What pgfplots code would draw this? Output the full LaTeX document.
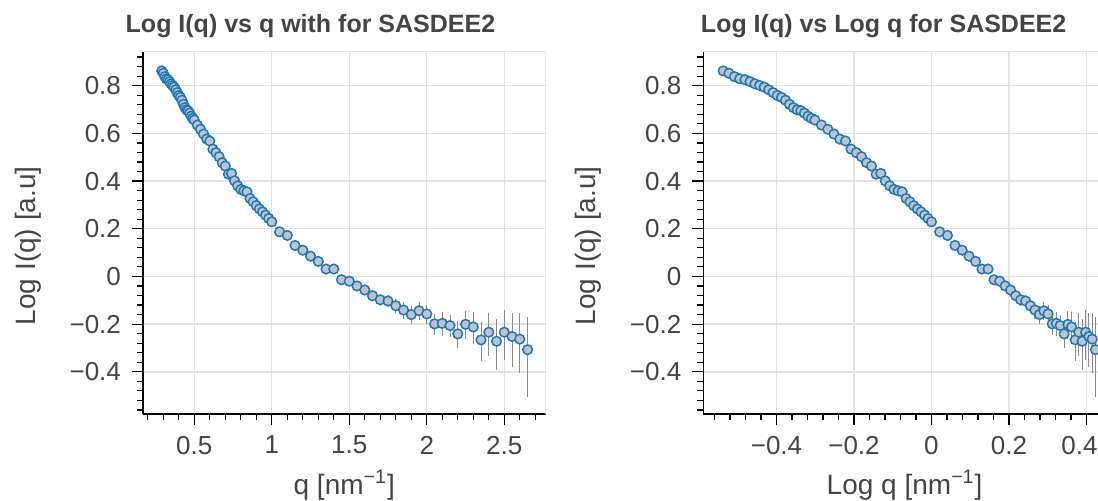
\documentclass[border=0pt]{standalone}
\usepackage{fontspec}
\setmainfont{Liberation Sans}
\usepackage{pgfplots}
\usepackage{pgfplotstable}
\pgfplotsset{compat=1.18}

\definecolor{txt}{HTML}{444444}
\definecolor{gridc}{HTML}{E3E3E3}
\definecolor{edge}{HTML}{1F77B4}
\definecolor{fillc}{HTML}{BCC5CE}
\definecolor{errc}{HTML}{8A8A8A}

% q, log10 q, log I, error up, error down
\pgfplotstableread{
q lq y ep em
0.29 -0.5376 0.862 0.005 0.005
0.30 -0.5229 0.852 0.005 0.005
0.31 -0.5086 0.838 0.005 0.005
0.32 -0.4949 0.829 0.005 0.005
0.33 -0.4815 0.825 0.005 0.005
0.34 -0.4685 0.817 0.005 0.005
0.35 -0.4559 0.808 0.005 0.005
0.36 -0.4437 0.801 0.005 0.005
0.37 -0.4318 0.794 0.005 0.005
0.38 -0.4202 0.783 0.005 0.005
0.39 -0.4089 0.771 0.005 0.005
0.40 -0.3979 0.759 0.005 0.005
0.41 -0.3872 0.751 0.005 0.005
0.42 -0.3768 0.739 0.005 0.005
0.43 -0.3665 0.722 0.005 0.005
0.44 -0.3565 0.708 0.005 0.005
0.45 -0.3468 0.699 0.005 0.005
0.46 -0.3372 0.695 0.005 0.005
0.47 -0.3279 0.685 0.005 0.005
0.48 -0.3188 0.672 0.005 0.005
0.49 -0.3098 0.663 0.005 0.005
0.50 -0.3010 0.656 0.005 0.005
0.52 -0.2840 0.635 0.005 0.005
0.54 -0.2676 0.617 0.005 0.005
0.56 -0.2518 0.597 0.005 0.005
0.58 -0.2366 0.576 0.005 0.005
0.60 -0.2218 0.568 0.005 0.005
0.62 -0.2076 0.534 0.005 0.005
0.64 -0.1938 0.519 0.005 0.005
0.66 -0.1805 0.502 0.005 0.005
0.68 -0.1675 0.477 0.005 0.005
0.70 -0.1549 0.463 0.006 0.006
0.72 -0.1427 0.429 0.006 0.006
0.74 -0.1308 0.432 0.006 0.006
0.76 -0.1192 0.401 0.006 0.006
0.78 -0.1079 0.380 0.006 0.006
0.80 -0.0969 0.365 0.006 0.006
0.82 -0.0862 0.359 0.006 0.006
0.84 -0.0757 0.355 0.006 0.006
0.86 -0.0655 0.327 0.006 0.006
0.88 -0.0555 0.313 0.007 0.007
0.90 -0.0458 0.297 0.007 0.007
0.92 -0.0362 0.283 0.007 0.007
0.94 -0.0269 0.271 0.007 0.007
0.96 -0.0177 0.257 0.007 0.007
0.98 -0.0088 0.243 0.007 0.007
1.00 0.0000 0.229 0.008 0.008
1.05 0.0212 0.187 0.008 0.008
1.10 0.0414 0.172 0.009 0.009
1.15 0.0607 0.130 0.010 0.010
1.20 0.0792 0.110 0.011 0.011
1.25 0.0969 0.085 0.012 0.012
1.30 0.1139 0.063 0.012 0.013
1.35 0.1303 0.031 0.013 0.014
1.40 0.1461 0.031 0.014 0.015
1.45 0.1614 -0.014 0.015 0.016
1.50 0.1761 -0.020 0.016 0.017
1.55 0.1903 -0.040 0.018 0.019
1.60 0.2041 -0.057 0.020 0.021
1.65 0.2175 -0.081 0.022 0.023
1.70 0.2304 -0.098 0.024 0.026
1.75 0.2430 -0.103 0.025 0.027
1.80 0.2553 -0.123 0.030 0.032
1.85 0.2672 -0.141 0.033 0.036
1.90 0.2788 -0.160 0.035 0.038
1.95 0.2900 -0.144 0.035 0.038
2.00 0.3010 -0.157 0.038 0.042
2.05 0.3118 -0.199 0.042 0.047
2.10 0.3222 -0.197 0.048 0.054
2.15 0.3324 -0.206 0.044 0.050
2.20 0.3424 -0.241 0.052 0.060
2.25 0.3522 -0.201 0.055 0.063
2.30 0.3617 -0.212 0.062 0.073
2.35 0.3711 -0.266 0.075 0.090
2.40 0.3802 -0.234 0.082 0.100
2.45 0.3892 -0.272 0.095 0.120
2.50 0.3979 -0.234 0.092 0.115
2.55 0.4065 -0.252 0.100 0.128
2.60 0.4150 -0.263 0.109 0.142
2.65 0.4232 -0.307 0.138 0.199
}\sasdata

\pgfplotsset{
  sas/.style={
    scale only axis, width=201.25pt, height=181.2pt,
    ymin=-0.577, ymax=0.943,
    ytick={-0.4,-0.2,0,0.2,0.4,0.6,0.8},
    yticklabels={−0.4,−0.2,0,0.2,0.4,0.6,0.8},
    minor ytick={-0.56,-0.52,-0.48,-0.44,-0.36,-0.32,-0.28,-0.24,-0.16,-0.12,-0.08,-0.04,
      0.04,0.08,0.12,0.16,0.24,0.28,0.32,0.36,0.44,0.48,0.52,0.56,0.64,0.68,0.72,0.76,0.84,0.88,0.92},
    axis x line*=bottom, axis y line*=left,
    axis line style={black, line width=0.6pt, -},
    tick align=outside,
    major tick length=5.5pt, minor tick length=3pt,
    every tick/.style={black, line width=0.6pt},
    grid=major, major grid style={gridc, line width=0.7pt},
    tick label style={font=\fontsize{13}{16}\selectfont, text=txt},
    xticklabel style={yshift=-2pt},
    yticklabel style={xshift=-2pt},
    every axis title/.style={anchor=base, yshift=9.5pt,
      font=\bfseries\fontsize{12.5}{15}\selectfont, text=txt},
    every axis x label/.style={at={(axis description cs:0.5,0)}, anchor=base, yshift=-40pt,
      font=\fontsize{14}{17}\selectfont, text=txt},
    every axis y label/.style={at={(axis description cs:0,0.464)}, xshift=-57.5pt, rotate=90, anchor=center,
      font=\fontsize{14}{17}\selectfont, text=txt},
    ylabel={Log I(q) [a.u]},
  },
  marks/.style={only marks, mark=*, mark size=2.4pt,
    mark options={draw=edge, fill=fillc, line width=0.75pt}},
  bars/.style={draw=none, mark=none, forget plot,
    error bars/.cd, y dir=both, y explicit, error mark=none,
    error bar style={draw=errc, line width=0.5pt, solid}},
}

\begin{document}
\begin{tikzpicture}
\begin{axis}[sas,
    title={Log I(q) vs q with for SASDEE2},
    title style={at={(axis description cs:0.416,1)}},
    xmin=0.169, xmax=2.766,
    xtick={0.5,1,1.5,2,2.5}, xticklabels={0.5,1,1.5,2,2.5},
    minor xtick={0.2,0.3,0.4,0.6,0.7,0.8,0.9,1.1,1.2,1.3,1.4,1.6,1.7,1.8,1.9,2.1,2.2,2.3,2.4,2.6,2.7},
    xlabel={q [nm\textsuperscript{−1}]},
]
\draw[gridc, line width=0.7pt] (rel axis cs:0,1) -- (rel axis cs:1,1) -- (rel axis cs:1,0);
\addplot[marks] table[x=q, y=y] {\sasdata};
\addplot[bars] table[x=q, y=y, y error plus=ep, y error minus=em] {\sasdata};
\end{axis}
\begin{axis}[sas, at={(280.15pt,0pt)},
    title={Log I(q) vs Log q for SASDEE2},
    title style={at={(axis description cs:0.448,1)}},
    xmin=-0.589, xmax=0.45,
    xtick={-0.4,-0.2,0,0.2,0.4}, xticklabels={−0.4,−0.2,0,0.2,\hspace*{-7pt}0.4},
    minor xtick={-0.56,-0.52,-0.48,-0.44,-0.36,-0.32,-0.28,-0.24,-0.16,-0.12,-0.08,-0.04,
      0.04,0.08,0.12,0.16,0.24,0.28,0.32,0.36,0.44},
    xlabel={Log q [nm\textsuperscript{−1}]},
]
\draw[gridc, line width=0.7pt] (rel axis cs:0,1) -- (rel axis cs:1,1) -- (rel axis cs:1,0);
\addplot[marks] table[x=lq, y=y] {\sasdata};
\addplot[bars] table[x=lq, y=y, y error plus=ep, y error minus=em] {\sasdata};
\end{axis}
\pgfresetboundingbox
\path[use as bounding box] (-71.5pt,-43pt) rectangle (477.5pt,207pt);
\end{tikzpicture}
\end{document}
